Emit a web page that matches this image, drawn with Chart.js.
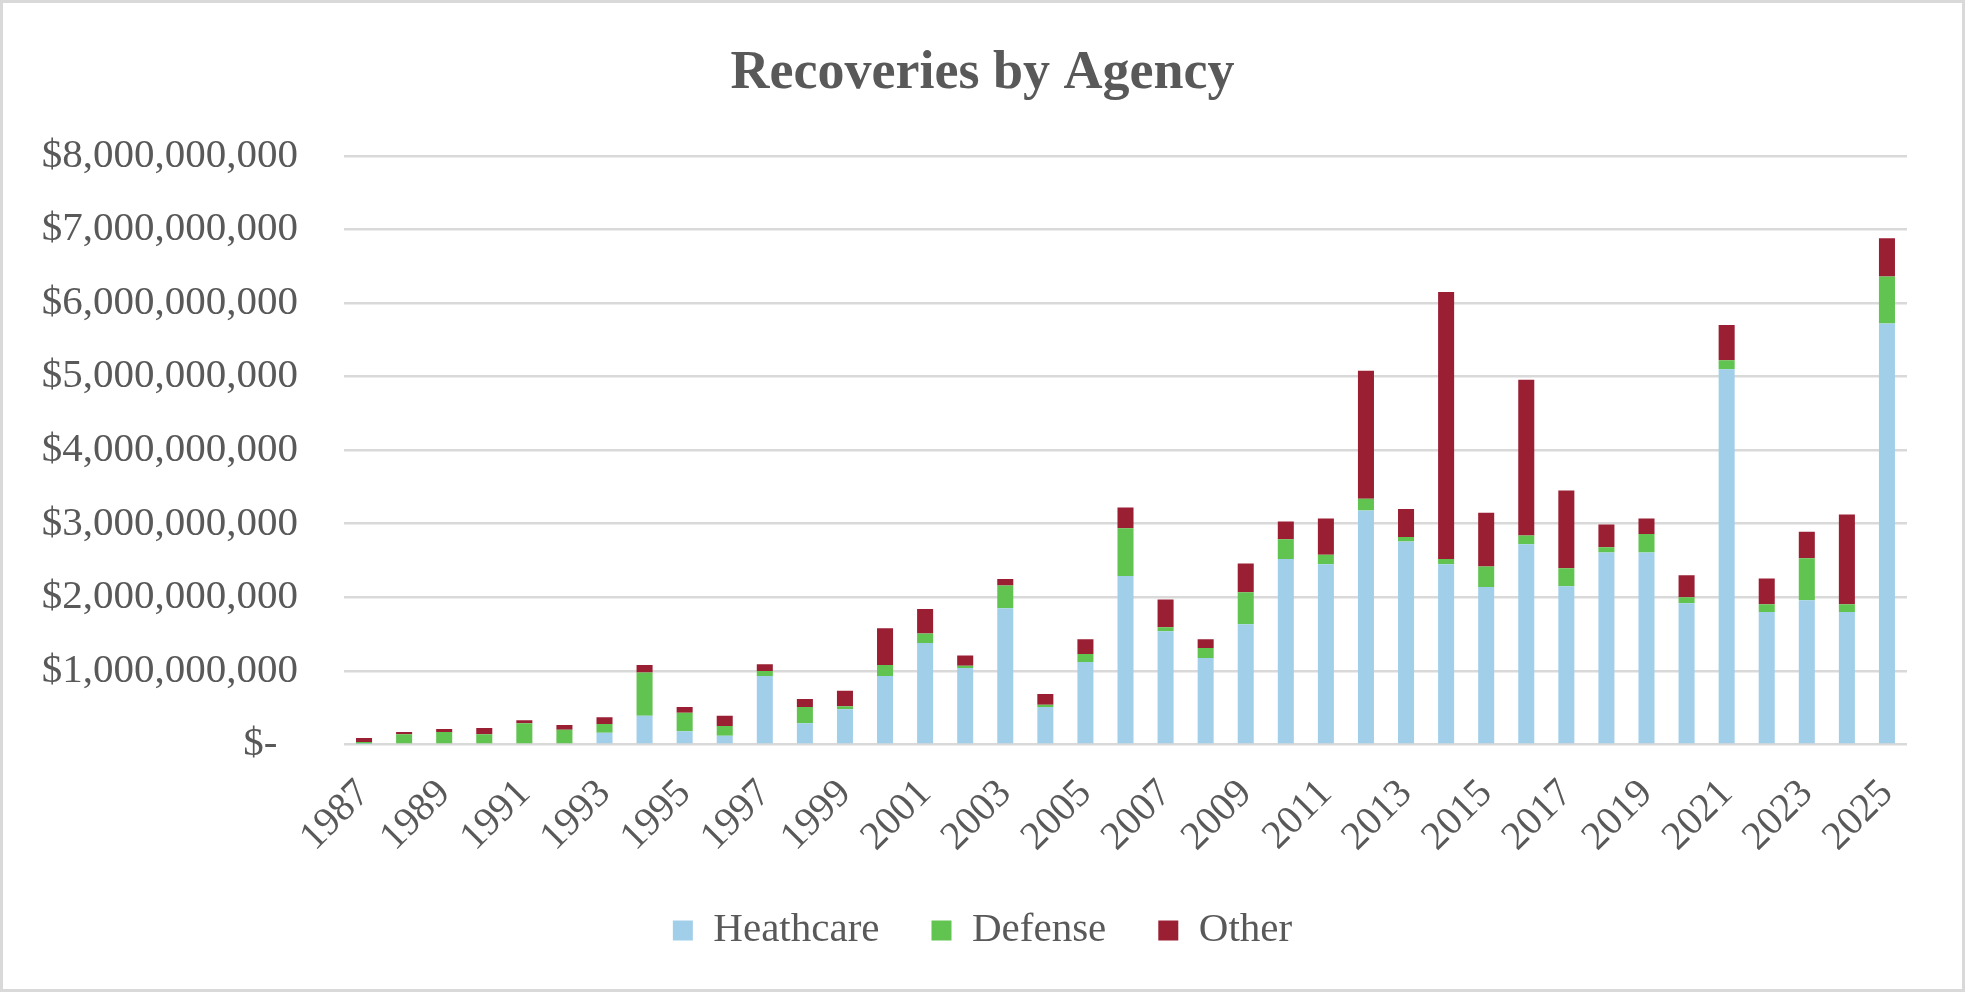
<!DOCTYPE html>
<html>
<head>
<meta charset="utf-8">
<script src="https://cdn.jsdelivr.net/npm/chart.js@4.4.1/dist/chart.umd.min.js"></script>
<style>
  html, body { margin: 0; padding: 0; background: #fff; }
  .chart-box {
    position: relative;
    width: 1965px;
    height: 992px;
    border: 3px solid #d9d9d9;
    box-sizing: border-box;
  }
</style>
</head>
<body>
<div class="chart-box"><canvas id="chart"></canvas></div>
<script>
// years on the x axis
const years = [
  "1987", "1988", "1989", "1990", "1991", "1992", "1993", "1994", "1995", "1996",
  "1997", "1998", "1999", "2000", "2001", "2002", "2003", "2004", "2005", "2006",
  "2007", "2008", "2009", "2010", "2011", "2012", "2013", "2014", "2015", "2016",
  "2017", "2018", "2019", "2020", "2021", "2022", "2023", "2024", "2025"
];

// recoveries in billions of dollars
const healthcare = [
  0.01, 0, 0, 0, 0, 0, 0.16, 0.39, 0.18, 0.12,
  0.93, 0.29, 0.48, 0.93, 1.38, 1.04, 1.85, 0.51, 1.12, 2.29,
  1.54, 1.175, 1.635, 2.52, 2.45, 3.18, 2.76, 2.45, 2.14, 2.72,
  2.15, 2.61, 2.61, 1.92, 5.10, 1.80, 1.96, 1.80, 5.72
];
const defense = [
  0.025, 0.14, 0.17, 0.14, 0.29, 0.20, 0.12, 0.59, 0.25, 0.13,
  0.07, 0.22, 0.04, 0.15, 0.13, 0.03, 0.31, 0.03, 0.11, 0.65,
  0.055, 0.135, 0.435, 0.27, 0.13, 0.16, 0.06, 0.07, 0.28, 0.12,
  0.245, 0.07, 0.25, 0.08, 0.12, 0.105, 0.57, 0.105, 0.64
];
const other = [
  0.055, 0.03, 0.04, 0.085, 0.04, 0.065, 0.09, 0.10, 0.08, 0.14,
  0.09, 0.11, 0.21, 0.50, 0.33, 0.14, 0.09, 0.145, 0.20, 0.28,
  0.375, 0.12, 0.39, 0.24, 0.49, 1.74, 0.38, 3.63, 0.73, 2.115,
  1.055, 0.31, 0.21, 0.30, 0.48, 0.35, 0.36, 1.22, 0.52
];

// y axis ticks
const yTicks = [0, 1e9, 2e9, 3e9, 4e9, 5e9, 6e9, 7e9, 8e9];

const BILLION = 1e9;
const textColor = "#595959";
const gridColor = "#d9d9d9";
const serif = "'Liberation Serif', 'Times New Roman', serif";

function toDollars(arr) {
  return arr.map(v => v * BILLION);
}

function moneyLabel(value) {
  if (value === 0) return "$-  ";
  return "$" + value.toLocaleString("en-US");
}

const ctx = document.getElementById("chart");

new Chart(ctx, {
  type: "bar",
  data: {
    labels: years,
    datasets: [
      { label: "Heathcare", data: toDollars(healthcare), backgroundColor: "#a1cfea" },
      { label: "Defense", data: toDollars(defense), backgroundColor: "#61c350" },
      { label: "Other", data: toDollars(other), backgroundColor: "#9a1f33" }
    ]
  },
  options: {
    responsive: true,
    maintainAspectRatio: false,
    animation: false,
    devicePixelRatio: 1,
    datasets: {
      bar: { barPercentage: 0.4, categoryPercentage: 1.0 }
    },
    layout: { padding: { top: 0, left: 0, right: 0, bottom: 28 } },
    plugins: {
      title: {
        display: true,
        text: "Recoveries by Agency",
        color: textColor,
        font: { family: serif, size: 54, weight: "bold", lineHeight: 1.2 },
        padding: { top: 39, bottom: 49 }
      },
      legend: {
        position: "bottom",
        labels: {
          color: textColor,
          font: { family: serif, size: 41 },
          boxWidth: 20,
          boxHeight: 20,
          padding: 52
        }
      },
      tooltip: { enabled: false }
    },
    scales: {
      x: {
        stacked: true,
        grid: { display: false },
        border: { display: false },
        ticks: {
          color: textColor,
          font: { family: serif, size: 40 },
          minRotation: 45,
          maxRotation: 45,
          autoSkip: false,
          padding: 18,
          callback: function (val, i) {
            return i % 2 === 0 ? years[i] : "";
          }
        },
        afterFit: function (s) { s.height = 113.5; }
      },
      y: {
        stacked: true,
        min: 0,
        max: 8e9,
        grid: { color: gridColor, lineWidth: 2.5, drawTicks: false },
        border: { display: false },
        afterBuildTicks: function (s) {
          s.ticks = yTicks.map(v => ({ value: v }));
        },
        ticks: {
          color: textColor,
          font: { family: serif, size: 41 },
          padding: 46,
          callback: moneyLabel
        },
        afterFit: function (s) { s.width = 341; }
      },
      // empty axis on the right, only to keep the plot off the right edge
      yRight: {
        type: "linear",
        position: "right",
        display: true,
        grid: { display: false },
        border: { display: false },
        ticks: { display: false },
        afterFit: function (s) { s.width = 55; }
      }
    }
  }
});
</script>
</body>
</html>
